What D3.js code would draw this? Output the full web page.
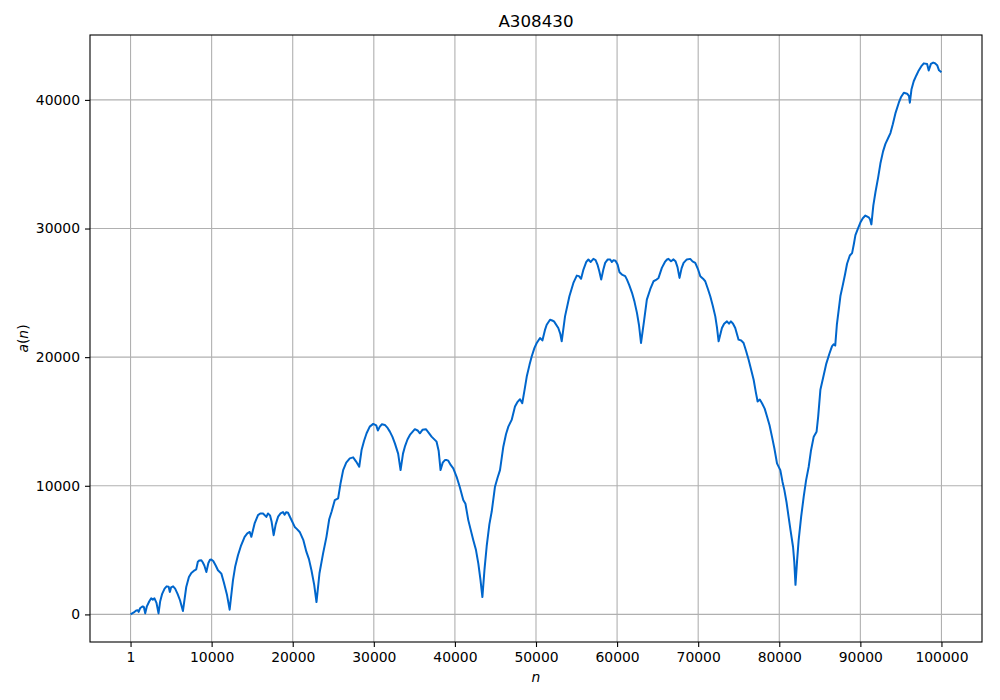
<!DOCTYPE html>
<html>
<head>
<meta charset="utf-8">
<script src="https://cdn.jsdelivr.net/npm/d3@7"></script>
<style>
  body { margin: 0; background: #fff; }
  text { font-family: "DejaVu Sans", sans-serif; }
  .grid line { stroke: #b0b0b0; stroke-width: 1.1; }
</style>
</head>
<body>
<div id="chart"></div>
<script>
// values (n, a(n))
const nValues = [
  1, 400, 700, 900, 1000, 1200, 1500, 1650, 1810, 2000, 2300, 2550, 2750, 2950, 3200, 3450,
  3650, 3900, 4200, 4450, 4700, 4850, 5000, 5250, 5500, 5800, 6100, 6460, 6870, 7200, 7500,
  7900, 8100, 8300, 8500, 8730, 8900, 9100, 9350, 9600, 9800, 9960, 10200, 10500, 10780,
  11000, 11200, 11500, 11900, 12220, 12630, 12900, 13250, 13600, 14070, 14400, 14700, 14900,
  15300, 15720, 16000, 16340, 16750, 16950, 17200, 17400, 17650, 17900, 18200, 18500, 18800,
  19000, 19200, 19420, 19800, 20250, 20500, 20860, 21300, 21690, 22000, 22310, 22650, 22930,
  23300, 23740, 24160, 24500, 24800, 25190, 25600, 25900, 26220, 26600, 27040, 27450, 27800,
  28200, 28490, 28800, 29110, 29500, 29930, 30300, 30500, 30740, 31000, 31360, 31700, 31980,
  32300, 32600, 33000, 33300, 33600, 33830, 34150, 34450, 35060, 35400, 35680, 36000, 36420,
  36800, 37120, 37740, 38000, 38230, 38500, 38770, 39000, 39180, 39500, 39800, 40210, 40600,
  41030, 41300, 41650, 42270, 42600, 42890, 43150, 43390, 43650, 43920, 44250, 44540, 44940,
  45250, 45560, 45970, 46300, 46590, 47000, 47410, 47700, 48030, 48310, 48600, 48860, 49200,
  49470, 49800, 50090, 50500, 50790, 51100, 51320, 51730, 52000, 52220, 52750, 53000, 53170,
  53580, 54120, 54610, 55030, 55300, 55560, 55850, 56200, 56460, 56750, 57080, 57350, 57580,
  57800, 58040, 58300, 58530, 58850, 59150, 59350, 59560, 59800, 60060, 60300, 60600, 61000,
  61220, 61500, 61840, 62150, 62450, 62700, 62950, 63300, 63670, 64100, 64490, 64800, 65110,
  65520, 65900, 66160, 66340, 66650, 66960, 67200, 67450, 67700, 67950, 68200, 68600, 69020,
  69300, 69640, 70000, 70260, 70600, 70870, 71200, 71490, 71800, 72110, 72320, 72520, 72930,
  73200, 73550, 73800, 74040, 74300, 74570, 74980, 75300, 75600, 75900, 76220, 76500, 76840,
  77100, 77330, 77600, 77870, 78200, 78490, 78800, 79100, 79400, 79720, 80130, 80400, 80630,
  80900, 81150, 81400, 81700, 81850, 82000, 82200, 82390, 82700, 83010, 83300, 83630, 83900,
  84250, 84600, 84800, 85070, 85490, 85800, 86200, 86510, 86720, 86900, 87100, 87540, 87800,
  88100, 88360, 88700, 88980, 89200, 89390, 89700, 90000, 90300, 90620, 91030, 91200, 91360,
  91600, 91860, 92200, 92470, 92800, 93090, 93400, 93710, 94000, 94320, 94740, 95000, 95360,
  95770, 96000, 96100, 96300, 96580, 96900, 97200, 97500, 97820, 98230, 98430, 98700, 98980,
  99200, 99470, 99700, 100000
];
const aValues = [
  0, 150, 300, 320, 200, 500, 620, 560, 80, 600, 1000, 1250, 1150, 1250, 900, 80,
  1000, 1600, 2000, 2180, 2150, 1750, 2100, 2180, 2000, 1600, 1100, 260, 2130, 2900, 3220,
  3430, 3500, 4100, 4200, 4210, 4050, 3800, 3300, 4000, 4250, 4260, 4150, 3800, 3430,
  3300, 3170, 2500, 1500, 370, 2650, 3700, 4600, 5300, 6030, 6300, 6410, 6030,
  7070, 7720, 7850, 7850, 7580, 7850, 7700, 7200, 6160, 7000, 7600, 7850, 7950,
  7750, 7950, 7900, 7400, 6800, 6650, 6410, 5800, 4860, 4300, 3430, 2300, 960,
  3200, 4730, 6030, 7400, 8000, 8890, 9020, 10200, 11220, 11800, 12130, 12210, 11900,
  11480, 12780, 13500, 14080, 14600, 14810, 14700, 14300, 14600, 14780, 14730, 14500, 14210,
  13800, 13300, 12500, 11220, 12500, 13040, 13600, 13950, 14400, 14300, 14080, 14350, 14400,
  14100, 13820, 13430, 12700, 11220, 11800, 12000, 12000, 11950, 11600, 11350, 10700, 9900,
  8890, 8600, 7330, 5770, 5000, 3950, 2700, 1350, 3500, 5300, 7000, 8000, 9920,
  10600, 11220, 13040, 14000, 14600, 15120, 16160, 16500, 16730, 16420, 17500, 18490, 19400,
  20050, 20700, 21100, 21490, 21300, 22100, 22520, 22910, 22850, 22780, 22270, 21800, 21230,
  23170, 24730, 25770, 26340, 26300, 26090, 26810, 27400, 27590, 27400, 27640, 27550, 27200,
  26700, 26030, 26800, 27330, 27600, 27590, 27400, 27540, 27500, 27200, 26600, 26420, 26300,
  26030, 25600, 25000, 24300, 23440, 22500, 21100, 22700, 24470, 25300, 25900, 26000, 26160,
  26940, 27400, 27590, 27640, 27450, 27600, 27460, 27000, 26160, 26900, 27330, 27600, 27640,
  27450, 27330, 26800, 26290, 26100, 25900, 25300, 24730, 24000, 23170, 22300, 21230, 22270,
  22600, 22780, 22600, 22780, 22600, 22270, 21360, 21300, 21100, 20500, 19800, 19100, 18240,
  17300, 16550, 16700, 16420, 16000, 15380, 14700, 13820, 12900, 11740, 11220, 10300, 9660,
  8700, 7580, 6500, 5240, 4100, 2300, 4200, 5770, 7600, 9140, 10400, 11480, 12700,
  13820, 14200, 15400, 17460, 18630, 19500, 20300, 20860, 21000, 20900, 22500, 24750, 25500,
  26400, 27260, 27900, 28090, 28800, 29490, 30000, 30460, 30800, 31010, 30870, 30700, 30320,
  31800, 32820, 34000, 35050, 36000, 36580, 37000, 37420, 38100, 38950, 39780, 40200, 40560,
  40480, 40300, 39780, 40800, 41450, 41900, 42290, 42600, 42840, 42790, 42290, 42800, 42900,
  42850, 42700, 42300, 42150
];
const xTicks = [1, 10000, 20000, 30000, 40000, 50000, 60000, 70000, 80000, 90000, 100000];
const yTicks = [0, 10000, 20000, 30000, 40000];
const chartTitle = "A308430";

const width = 1000, height = 700;
const margin = {top: 35, right: 18, bottom: 58, left: 90};
const innerW = width - margin.left - margin.right;
const innerH = height - margin.top - margin.bottom;

const points = nValues.map((n, i) => ({n: n, a: aValues[i]}));

// matplotlib style 5% padding on both axes
const xExt = d3.extent(nValues);
const yExt = d3.extent(aValues);
const xPad = (xExt[1] - xExt[0]) * 0.05;
const yPad = (yExt[1] - yExt[0]) * 0.05;

const x = d3.scaleLinear()
    .domain([xExt[0] - xPad, xExt[1] + xPad])
    .range([0, innerW]);
const y = d3.scaleLinear()
    .domain([yExt[0] - yPad, yExt[1] + yPad])
    .range([innerH, 0]);

const svg = d3.select("#chart").append("svg")
    .attr("width", width)
    .attr("height", height);

const g = svg.append("g")
    .attr("transform", `translate(${margin.left},${margin.top})`);

// grid
g.append("g").attr("class", "grid")
    .selectAll("line").data(xTicks).enter().append("line")
    .attr("x1", d => x(d)).attr("x2", d => x(d))
    .attr("y1", 0).attr("y2", innerH);
g.append("g").attr("class", "grid")
    .selectAll("line").data(yTicks).enter().append("line")
    .attr("x1", 0).attr("x2", innerW)
    .attr("y1", d => y(d)).attr("y2", d => y(d));

// the series
const line = d3.line()
    .x(d => x(d.n))
    .y(d => y(d.a));

g.append("path")
    .datum(points)
    .attr("fill", "none")
    .attr("stroke", "#0066cc")
    .attr("stroke-width", 2)
    .attr("stroke-linejoin", "round")
    .attr("d", line);

// axes
const xAxis = d3.axisBottom(x).tickValues(xTicks).tickFormat(d => String(d))
    .tickSizeInner(5).tickSizeOuter(0).tickPadding(5);
const yAxis = d3.axisLeft(y).tickValues(yTicks).tickFormat(d => String(d))
    .tickSizeInner(5).tickSizeOuter(0).tickPadding(5);

const gx = g.append("g")
    .attr("transform", `translate(0,${innerH})`)
    .call(xAxis);
const gy = g.append("g").call(yAxis);

[gx, gy].forEach(ax => {
    ax.select(".domain").remove();
    ax.selectAll(".tick line").attr("stroke", "#000").attr("stroke-width", 1.1);
    ax.selectAll(".tick text")
        .attr("fill", "#000")
        .style("font-family", "'DejaVu Sans', sans-serif")
        .style("font-size", "13.9px");
});

// frame
g.append("rect")
    .attr("width", innerW)
    .attr("height", innerH)
    .attr("fill", "none")
    .attr("stroke", "#000")
    .attr("stroke-width", 1.1);

// title and labels
svg.append("text")
    .attr("x", margin.left + innerW / 2)
    .attr("y", 27)
    .attr("text-anchor", "middle")
    .style("font-size", "16.7px")
    .text(chartTitle);

svg.append("text")
    .attr("x", margin.left + innerW / 2)
    .attr("y", 682)
    .attr("text-anchor", "middle")
    .style("font-size", "13.9px")
    .style("font-style", "italic")
    .text("n");

const yl = svg.append("text")
    .attr("transform", `translate(28,${margin.top + innerH / 2}) rotate(-90)`)
    .attr("text-anchor", "middle")
    .style("font-size", "13.9px");
yl.append("tspan").style("font-style", "italic").text("a");
yl.append("tspan").text("(");
yl.append("tspan").style("font-style", "italic").text("n");
yl.append("tspan").text(")");
</script>
</body>
</html>
